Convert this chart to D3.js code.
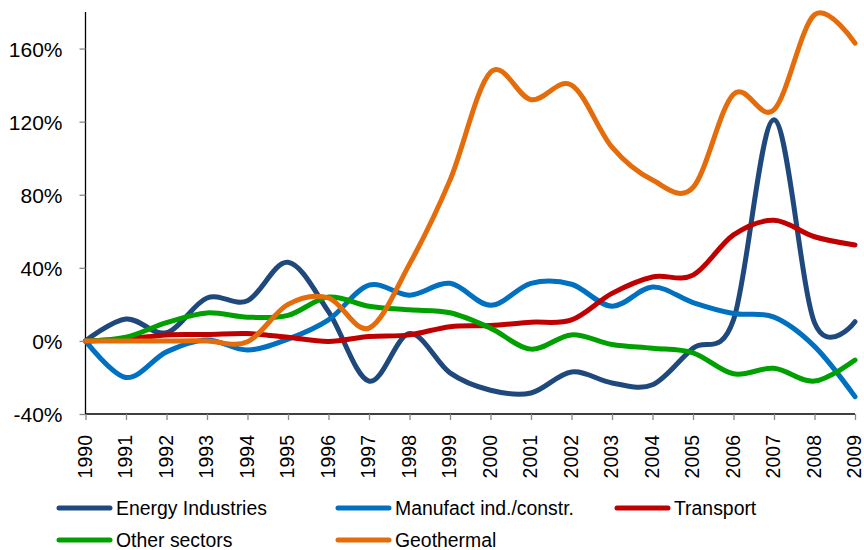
<!DOCTYPE html>
<html>
<head>
<meta charset="utf-8">
<script src="https://cdn.jsdelivr.net/npm/d3@7"></script>
<style>
  body { margin: 0; background: #fff; }
  text { font-family: "Liberation Sans", Arial, sans-serif; fill: #000; }
</style>
</head>
<body>
<div id="chart"></div>
<script>
// data
var years = d3.range(1990, 2010)
var energy    = [0, 12, 4.5, 23.5, 22, 43, 16, -22, 4, -17.5, -27, -28.5, -17, -23, -24, -4, 11.5, 121, 10, 10.5]
var manufact  = [0, -20, -6, 0.5, -5, 1, 11.5, 30.5, 25, 31.5, 19.5, 31.5, 31, 19, 29.5, 21, 15, 13, -3, -30.5]
var transport = [0, 1, 3.3, 3.5, 4, 2, -0.3, 2.4, 3.3, 7.8, 8.4, 10.2, 11.5, 26, 35, 36, 58, 66, 57, 52.5]
var other     = [0, 2, 10, 15.3, 13, 14, 24, 19, 17, 15.4, 7, -4.5, 3.3, -2, -4, -6.5, -18, -15, -22, -10.5]
var geo       = [0, 0, 0, 0, -0.5, 20, 23.5, 7, 42, 88, 147, 132, 140, 106, 88, 84, 135, 126.5, 178.5, 163]
var seriesNames = ["Energy Industries", "Manufact ind./constr.", "Transport", "Other sectors", "Geothermal"]
var seriesColors = ["#1F497D", "#0070C0", "#C00000", "#00A000", "#E46C0A"]
var yTicks = [-40, 0, 40, 80, 120, 160]

var series = [energy, manufact, transport, other, geo].map(function(v, i) {
  return { name: seriesNames[i], color: seriesColors[i], values: v }
})

var screen = { width: 864, height: 550 }
var margin = { top: 12, left: 85.5, right: 9, bottom: 136 }

var svg = d3.select("#chart").append("svg")
  .attr("width", screen.width)
  .attr("height", screen.height)

// scales
var xScale = d3.scaleLinear()
  .domain([1990, 2009])
  .range([margin.left, screen.width - margin.right])
var yScale = d3.scaleLinear()
  .domain([-40, 180])
  .range([screen.height - margin.bottom, margin.top])

// axes
var yAxis = d3.axisLeft(yScale).tickValues(yTicks).tickSize(6).tickPadding(17)
  .tickFormat(function(d) { return d + "%" })
var yg = svg.append("g")
  .attr("transform", "translate(" + margin.left + ",0)")
  .call(yAxis)
yg.select(".domain").attr("stroke", "#000").attr("stroke-width", 1.3)
  .attr("d", "M0," + yScale(-40) + "V" + margin.top)
yg.selectAll(".tick line").attr("stroke", "#888").attr("stroke-width", 1.3)
yg.selectAll(".tick text").style("font-size", "21px").attr("dy", "0.36em")

var xAxis = d3.axisBottom(xScale).tickValues(years).tickSize(6).tickFormat(d3.format("d"))
var xg = svg.append("g")
  .attr("transform", "translate(0," + yScale(-40) + ")")
  .call(xAxis)
xg.select(".domain").attr("stroke", "#000").attr("stroke-width", 1.3)
  .attr("d", "M" + margin.left + ",0H" + xScale(2009))
xg.selectAll(".tick line").attr("stroke", "#888").attr("stroke-width", 1.3)
xg.selectAll(".tick text")
  .style("font-size", "19.5px")
  .attr("text-anchor", "end")
  .attr("transform", "rotate(-90)")
  .attr("x", -21)
  .attr("y", 0)
  .attr("dy", "0.3em")

// lines
var drawPath = d3.line()
  .x(function(d, i) { return xScale(years[i]) })
  .y(function(d) { return yScale(d) })
  .curve(d3.curveCardinal)

svg.selectAll(".series")
  .data(series)
  .enter()
  .append("path")
  .attr("class", "series")
  .attr("d", function(d) { return drawPath(d.values) })
  .attr("fill", "none")
  .attr("stroke", function(d) { return d.color })
  .attr("stroke-width", 5)
  .attr("stroke-linecap", "round")
  .attr("stroke-linejoin", "round")

// legend
var legendPos = [[57, 508], [336, 508], [615, 508], [57, 540], [336, 540]]
var legend = svg.selectAll(".legend")
  .data(series)
  .enter()
  .append("g")
  .attr("class", "legend")
  .attr("transform", function(d, i) { return "translate(" + legendPos[i][0] + "," + legendPos[i][1] + ")" })
legend.append("line")
  .attr("x1", 2).attr("x2", 53)
  .attr("stroke", function(d) { return d.color })
  .attr("stroke-width", 5)
  .attr("stroke-linecap", "round")
legend.append("text")
  .attr("x", 59)
  .attr("dy", "0.36em")
  .style("font-size", "19.4px")
  .text(function(d) { return d.name })
</script>
</body>
</html>
